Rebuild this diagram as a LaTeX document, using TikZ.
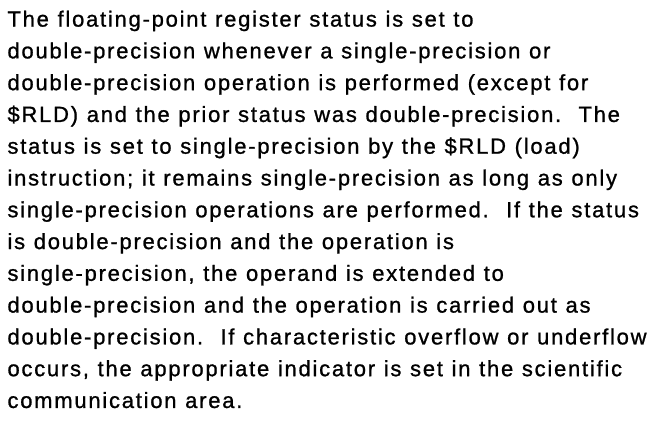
\documentclass[tikz,border=0pt]{standalone}
\usepackage{fontspec}
\setmainfont{Liberation Sans}[LetterSpace=8,WordSpace=1.1,FakeBold=1]
\begin{document}
\begin{tikzpicture}[x=1pt,y=-1pt,
  textline/.style={anchor=base west,inner sep=0pt,outer sep=0pt,
    font=\fontsize{22}{26}\selectfont}]
\useasboundingbox (0,0) rectangle (654,423);
\foreach \i/\t in {
  1/{The floating-point register status is set to},
  2/{double-precision whenever a single-precision or},
  3/{double-precision operation is performed (except for},
  4/{\$RLD) and the prior status was double-precision.\ \ The},
  5/{status is set to single-precision by the \$RLD (load)},
  6/{instruction; it remains single-precision as long as only},
  7/{single-precision operations are performed.\ \ If the status},
  8/{is double-precision and the operation is},
  9/{single-precision, the operand is extended to},
  10/{double-precision and the operation is carried out as},
  11/{double-precision.\ \ If characteristic overflow or underflow},
  12/{occurs, the appropriate indicator is set in the scientific},
  13/{communication area.}}
  \node[textline] (line\i) at (7.5,{26.6+(\i-1)*31.78}) {\t};
\end{tikzpicture}
\end{document}
